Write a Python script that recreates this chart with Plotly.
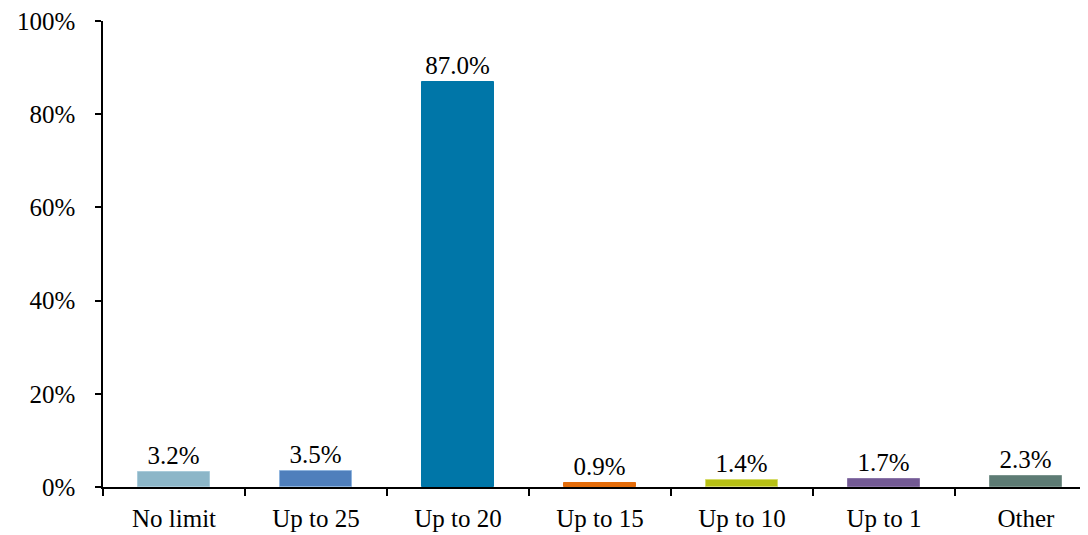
import plotly.graph_objects as go

categories = ["No limit", "Up to 25", "Up to 20", "Up to 15", "Up to 10", "Up to 1", "Other"]
values = [3.2, 3.5, 87.0, 0.9, 1.4, 1.7, 2.3]
colors = ["#8CB6C8", "#4F7FBC", "#0076A8", "#E46C0A", "#B7C015", "#735A94", "#5D7B74"]
outline = ["#A9CBDA", "#8FB4DE", "#0076A8", "#E46C0A", "#D6DC6A", "#8A74A8", "#7A948D"]
labels = [f"{v:.1f}%" for v in values]
yticks = [0, 20, 40, 60, 80, 100]

font = "Liberation Serif"

fig = go.Figure(go.Bar(
    x=categories, y=values,
    marker=dict(color=colors, line=dict(color=outline, width=1)),
    width=0.51,
    text=labels, textposition="outside", cliponaxis=False,
    textfont=dict(family=font, size=25, color="black"),
))

fig.update_layout(
    width=1080, height=527,
    margin=dict(l=95, r=0, t=13, b=48),
    plot_bgcolor="white", paper_bgcolor="white",
    showlegend=False,
    font=dict(family=font, size=25, color="black"),
    bargap=0,
)
fig.update_xaxes(
    range=[-0.5, 6.437], showline=True, linecolor="black", linewidth=1.5,
    ticks="outside", ticklen=7, tickwidth=1.5, tickcolor="black", tickson="boundaries",
    showgrid=False, tickfont=dict(family=font, size=25), ticklabelstandoff=8,
)
fig.update_yaxes(
    range=[0, 100.001], tickvals=yticks, ticktext=[f"{t}%" for t in yticks],
    showline=True, linecolor="black", linewidth=1.5,
    ticks="outside", ticklen=6, tickwidth=1.5, tickcolor="black",
    showgrid=False, zeroline=False, tickfont=dict(family=font, size=25),
    ticklabeloverflow="allow", ticklabelstandoff=15,
)

fig.write_html("out.html")
